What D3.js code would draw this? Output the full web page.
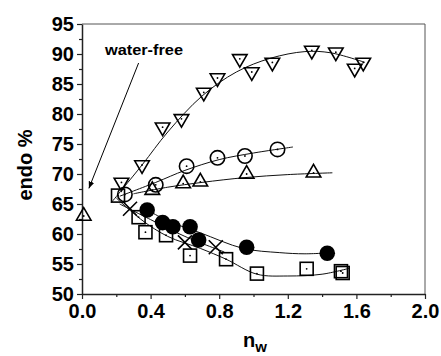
<!DOCTYPE html>
<html>
<head>
<meta charset="utf-8">
<script src="https://cdn.jsdelivr.net/npm/d3@7"></script>
<style>
  body { margin: 0; background: #fff; }
  svg { display: block; font-family: 'Liberation Sans', Arial, sans-serif; }
</style>
</head>
<body>
<svg id="chart" width="441" height="356"></svg>
<script>
// data (x = n_w, y = endo %)
const downTriX = [0.23, 0.35, 0.47, 0.58, 0.71, 0.79, 0.92, 0.99, 1.11, 1.34, 1.48, 1.59, 1.64];
const downTriY = [68.6, 71.5, 77.8, 79.2, 83.6, 86.0, 89.2, 87.0, 88.6, 90.6, 90.3, 87.6, 88.6];
const circleX = [0.25, 0.43, 0.61, 0.79, 0.95, 1.14];
const circleY = [66.6, 68.2, 71.3, 72.7, 73.0, 74.1];
const upTriX = [0.01, 0.41, 0.59, 0.69, 0.96, 1.35];
const upTriY = [63.0, 67.3, 68.4, 68.7, 70.0, 70.2];
const filledX = [0.38, 0.47, 0.53, 0.63, 0.68, 0.96, 1.43];
const filledY = [64.0, 61.9, 61.2, 61.2, 59.0, 57.8, 56.8];
const squareX = [0.21, 0.33, 0.37, 0.49, 0.63, 0.84, 1.02, 1.31, 1.51, 1.52];
const squareY = [66.4, 62.8, 60.3, 59.8, 56.4, 55.8, 53.4, 54.2, 53.8, 53.5];
const crossX = [0.28, 0.60, 0.78];
const crossY = [64.2, 58.6, 57.8];

// fitted curves, points
const downTriFitX = [0.17, 0.35, 0.5, 0.7, 0.9, 1.1, 1.3, 1.45, 1.65];
const downTriFitY = [65.2, 71.5, 77.0, 83.0, 87.0, 89.3, 90.4, 90.2, 88.6];
const circleFitX = [0.22, 0.43, 0.6, 0.8, 1.0, 1.23];
const circleFitY = [66.3, 68.6, 70.6, 72.4, 73.5, 74.5];
const upTriFitX = [0.3, 0.5, 0.7, 0.95, 1.2, 1.46];
const upTriFitY = [66.7, 67.8, 68.6, 69.4, 69.9, 70.2];
const filledFitX = [0.35, 0.5, 0.69, 0.94, 1.15, 1.3, 1.47];
const filledFitY = [64.5, 62.2, 60.2, 57.6, 56.9, 56.7, 56.9];
const squareFitX = [0.2, 0.35, 0.5, 0.69, 0.84, 1.02, 1.2, 1.4, 1.56];
const squareFitY = [66.0, 62.3, 59.6, 57.6, 55.8, 53.3, 53.0, 53.3, 54.3];
const crossFitX = [0.22, 0.4, 0.6, 0.83];
const crossFitY = [65.0, 62.4, 59.6, 57.0];

const xTicks = [0.0, 0.4, 0.8, 1.2, 1.6, 2.0];
const yTicks = [50, 55, 60, 65, 70, 75, 80, 85, 90, 95];

const margin = { left: 82, right: 16, top: 24, bottom: 62 };
const width = 441, height = 356;

const svg = d3.select('#chart');
const x = d3.scaleLinear().domain([0, 2]).range([margin.left, width - margin.right]);
const y = d3.scaleLinear().domain([50, 95]).range([height - margin.bottom, margin.top]);

const zip = (xs, ys) => xs.map((v, i) => [v, ys[i]]);

// frame (top + right)
svg.append('path')
  .attr('d', `M${x(0)},${y(95)}H${x(2)}V${y(50)}`)
  .attr('fill', 'none')
  .attr('stroke', '#555')
  .attr('stroke-width', 1);

// minor ticks
const yMinor = d3.axisLeft(y).tickValues(d3.range(52.5, 95, 5)).tickSize(3).tickFormat('');
const xMinor = d3.axisBottom(x).tickValues(d3.range(0.2, 2, 0.4)).tickSize(3).tickFormat('');
svg.append('g').attr('transform', `translate(${x(0)},0)`).call(yMinor).call(g => g.select('.domain').remove());
svg.append('g').attr('transform', `translate(0,${y(50)})`).call(xMinor).call(g => g.select('.domain').remove());

const yAxis = svg.append('g')
  .attr('transform', `translate(${x(0)},0)`)
  .call(d3.axisLeft(y).tickValues(yTicks).tickSize(5).tickSizeOuter(0).tickPadding(3).tickFormat(d3.format('d')));
yAxis.selectAll('text').attr('font-size', 20).attr('font-weight', 'bold').attr('fill', '#000')
  .attr('font-family', "'Liberation Sans', Arial, sans-serif");

const xAxis = svg.append('g')
  .attr('transform', `translate(0,${y(50)})`)
  .call(d3.axisBottom(x).tickValues(xTicks).tickSize(5).tickSizeOuter(0).tickPadding(5).tickFormat(d3.format('.1f')));
xAxis.selectAll('text').attr('font-size', 20).attr('font-weight', 'bold').attr('fill', '#000')
  .attr('font-family', "'Liberation Sans', Arial, sans-serif");

svg.selectAll('.domain').attr('stroke', '#222').attr('stroke-width', 1.5);
svg.selectAll('.tick line').attr('stroke', '#222').attr('stroke-width', 1.2);

// axis titles
svg.append('text')
  .attr('transform', `translate(32,${(y(95) + y(50)) / 2 + 6}) rotate(-90)`)
  .attr('text-anchor', 'middle')
  .attr('font-size', 20)
  .attr('font-weight', 'bold')
  .text('endo %');

const xt = svg.append('text')
  .attr('x', 243)
  .attr('y', 347)
  .attr('font-size', 20)
  .attr('font-weight', 'bold');
xt.append('tspan').text('n');
xt.append('tspan').attr('font-size', 15).attr('dy', 5).text('w');

// fit lines
const line = d3.line().x(d => x(d[0])).y(d => y(d[1])).curve(d3.curveCatmullRom);
const fits = [
  zip(downTriFitX, downTriFitY),
  zip(circleFitX, circleFitY),
  zip(upTriFitX, upTriFitY),
  zip(filledFitX, filledFitY),
  zip(squareFitX, squareFitY),
  zip(crossFitX, crossFitY)
];
svg.append('g')
  .attr('fill', 'none')
  .attr('stroke', '#111')
  .attr('stroke-width', 1)
  .selectAll('path')
  .data(fits)
  .join('path')
  .attr('d', line);

// markers
const mk = svg.append('g').attr('stroke', '#000').attr('stroke-width', 1.6);
const tri = d3.symbol().type(d3.symbolTriangle).size(92);

mk.selectAll('.dtri')
  .data(zip(downTriX, downTriY))
  .join('path')
  .attr('transform', d => `translate(${x(d[0])},${y(d[1])}) rotate(180)`)
  .attr('d', tri)
  .attr('fill', 'none');

mk.selectAll('.utri')
  .data(zip(upTriX, upTriY))
  .join('path')
  .attr('transform', d => `translate(${x(d[0])},${y(d[1])})`)
  .attr('d', tri)
  .attr('fill', 'none');

mk.selectAll('.ocirc')
  .data(zip(circleX, circleY))
  .join('circle')
  .attr('cx', d => x(d[0]))
  .attr('cy', d => y(d[1]))
  .attr('r', 7.2)
  .attr('fill', 'none');

mk.selectAll('.sq')
  .data(zip(squareX, squareY))
  .join('rect')
  .attr('x', d => x(d[0]) - 6.5)
  .attr('y', d => y(d[1]) - 6.5)
  .attr('width', 13)
  .attr('height', 13)
  .attr('fill', 'none');

mk.selectAll('.fcirc')
  .data(zip(filledX, filledY))
  .join('circle')
  .attr('cx', d => x(d[0]))
  .attr('cy', d => y(d[1]))
  .attr('r', 7.8)
  .attr('fill', '#000')
  .attr('stroke', 'none');

mk.selectAll('.cross')
  .data(zip(crossX, crossY))
  .join('path')
  .attr('d', d => {
    const cx = x(d[0]), cy = y(d[1]), s = 7;
    return `M${cx - s},${cy - s}L${cx + s},${cy + s}M${cx - s},${cy + s}L${cx + s},${cy - s}`;
  });

// centre dots of the open markers
const dotted = [].concat(
  zip(downTriX, downTriY), zip(upTriX, upTriY), zip(circleX, circleY), zip(squareX, squareY)
);
svg.append('g')
  .selectAll('circle')
  .data(dotted)
  .join('circle')
  .attr('cx', d => x(d[0]))
  .attr('cy', d => y(d[1]))
  .attr('r', 0.9)
  .attr('fill', '#000');

// annotation
svg.append('defs').append('marker')
  .attr('id', 'arrow')
  .attr('viewBox', '0 0 10 10')
  .attr('refX', 10).attr('refY', 5)
  .attr('markerWidth', 7).attr('markerHeight', 7)
  .attr('markerUnits', 'userSpaceOnUse')
  .attr('orient', 'auto')
  .append('path')
  .attr('d', 'M0,1L10,5L0,9Z')
  .attr('fill', '#000');

svg.append('line')
  .attr('x1', x(0.33)).attr('y1', y(88.5))
  .attr('x2', x(0.04)).attr('y2', y(67.6))
  .attr('stroke', '#000')
  .attr('stroke-width', 1)
  .attr('marker-end', 'url(#arrow)');

svg.append('text')
  .attr('x', x(0.134))
  .attr('y', y(89.9))
  .attr('font-size', 15)
  .attr('font-weight', 'bold')
  .attr('textLength', 78)
  .attr('lengthAdjust', 'spacingAndGlyphs')
  .text('water-free');
</script>
</body>
</html>
